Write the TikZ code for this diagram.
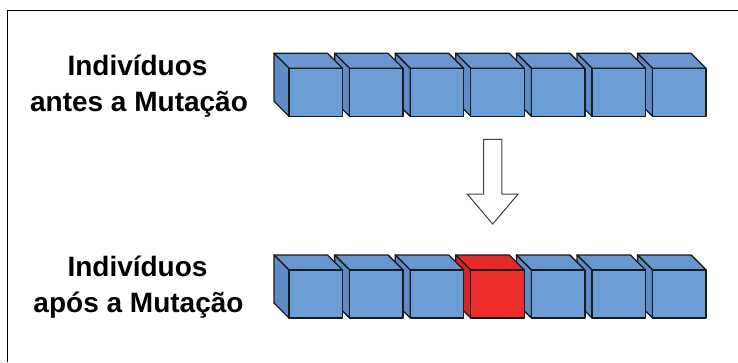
\documentclass[tikz,border=0pt]{standalone}
\usepackage{fontspec}
\setmainfont{Liberation Sans}
\definecolor{blueF}{HTML}{6D9DD5}
\definecolor{blueT}{HTML}{6897D0}
\definecolor{blueL}{HTML}{5F8CC6}
\definecolor{redF}{HTML}{EE2D2D}
\definecolor{redT}{HTML}{E62A2A}
\definecolor{redL}{HTML}{D62424}
\definecolor{edge}{HTML}{1A1A1A}
\tikzset{
  faceline/.style={draw=edge, line width=1.3pt, line join=round},
  pics/cube/.style={code={
    \path[faceline, fill=#1T] (0,0) -- (53.5,0) -- (68.5,15) -- (15,15) -- cycle;
    \path[faceline, fill=#1L] (0,0) -- (15,15) -- (15,63) -- (0,48) -- cycle;
    \path[faceline, fill=#1F] (15,15) rectangle (68.5,63);
  }},
  lbl/.style={font=\fontsize{28}{34}\selectfont\bfseries, inner sep=0pt, anchor=base},
  bigarrow/.style={draw=black!75, line width=1pt, fill=white, line join=miter},
}
\begin{document}
\begin{tikzpicture}[x=1pt, y=-1pt]
\useasboundingbox (0,0) rectangle (738,362);
% frame
\draw[line width=1.3pt] (7.3,362) -- (7.3,10.3) -- (738,10.3);
% labels
\node[lbl] (l1a) at (137.5,75.5) {Indivíduos};
\node[lbl] (l1b) at (139,111) {antes a Mutação};
\node[lbl] (l2a) at (137.5,276) {Indivíduos};
\node[lbl] (l2b) at (138.5,312) {após a Mutação};
% top row (drawn right to left)
\foreach \i in {6,5,...,0}{
  \pic (top\i) at ({274+60.6*\i},53.3) {cube=blue};
}
% bottom row
\foreach \i in {6,5,...,0}{
  \ifnum\i=3
    \pic (bot\i) at ({274+60.6*\i},255) {cube=red};
  \else
    \pic (bot\i) at ({274+60.6*\i},255) {cube=blue};
  \fi
}
% arrow
\path[bigarrow] (483.5,139.3) -- (501.9,139.3) -- (501.9,194) -- (518.2,194)
  -- (492.7,224) -- (467.2,194) -- (483.5,194) -- cycle;
\end{tikzpicture}
\end{document}
